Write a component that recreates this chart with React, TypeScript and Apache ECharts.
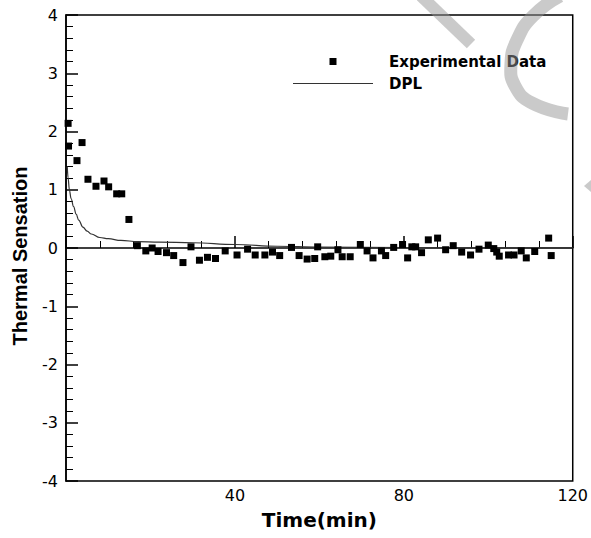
import React, { useEffect, useRef } from 'react';
import * as echarts from 'echarts';

// Experimental data (time in min, thermal sensation)
const expX = [0.5, 0.6, 2.6, 3.8, 5.2, 7.1, 9.0, 10.1, 12.0, 13.2, 14.9, 16.9, 18.9, 20.4, 21.8, 23.8, 25.5, 27.7, 29.6, 31.6, 33.5, 35.4, 37.7, 40.5, 43.0, 44.8, 47.1, 48.9, 50.6, 53.4, 55.2, 57.1, 58.9, 59.6, 61.3, 62.7, 64.4, 65.4, 67.3, 69.7, 71.3, 72.7, 74.7, 75.7, 77.6, 79.7, 80.9, 81.9, 82.8, 84.2, 85.8, 88.0, 89.9, 91.7, 93.7, 95.8, 97.8, 100.0, 101.3, 102.0, 102.6, 104.8, 106.1, 107.8, 109.0, 111.0, 114.3, 114.9];
const expY = [2.14, 1.75, 1.50, 1.81, 1.18, 1.06, 1.15, 1.05, 0.93, 0.93, 0.49, 0.04, -0.05, 0.0, -0.06, -0.08, -0.13, -0.25, 0.02, -0.21, -0.16, -0.18, -0.05, -0.12, -0.02, -0.12, -0.12, -0.07, -0.13, 0.01, -0.13, -0.19, -0.18, 0.02, -0.15, -0.14, -0.03, -0.15, -0.15, 0.06, -0.05, -0.17, -0.05, -0.13, 0.01, 0.06, -0.17, 0.02, 0.02, -0.08, 0.14, 0.17, -0.03, 0.04, -0.07, -0.12, -0.02, 0.05, -0.01, -0.07, -0.14, -0.12, -0.12, -0.05, -0.17, -0.06, 0.17, -0.13];

// DPL model curve
const dplX = [0.3, 0.5, 0.8, 1.2, 1.8, 2.4, 3.0, 4.0, 5.0, 6.0, 8.0, 10, 13, 17, 22, 30, 40, 50, 60, 80, 100, 120];
const dplY = [1.40, 1.20, 1.00, 0.85, 0.71, 0.58, 0.48, 0.36, 0.29, 0.24, 0.18, 0.16, 0.13, 0.11, 0.10, 0.09, 0.06, 0.03, 0.015, 0.005, 0.003, 0.002];

const seriesNames = ['Experimental Data', 'DPL'];
const xTitle = 'Time(min)';
const yTitle = 'Thermal Sensation';

export default function App() {
  const ref = useRef<HTMLDivElement>(null);
  useEffect(() => {
    document.body.style.margin = '0';
    if (!ref.current) return;
    const chart = echarts.init(ref.current, null, { renderer: 'svg' });
    const wm = 'rgba(150,150,150,0.5)';
    chart.setOption({
      animation: false,
      backgroundColor: '#fff',
      grid: {
        left: 66, right: 16, top: 15, bottom: 57,
        show: true, borderColor: '#000', borderWidth: 1.5, backgroundColor: 'transparent',
      },
      legend: {
        left: 293, top: 54, orient: 'vertical', padding: 0,
        itemWidth: 80, itemHeight: 7, itemGap: 7, selectedMode: false,
        textStyle: { fontFamily: 'DejaVu Sans', fontWeight: 'bold', fontSize: 15, color: '#000', padding: [0, 0, 0, 11] },
        data: [
          { name: seriesNames[0], icon: 'path://M0 0H10V10H0Z', itemStyle: { color: '#000', opacity: 1 } },
          { name: seriesNames[1], icon: 'path://M0 0H80V1.2H0Z', itemStyle: { color: '#333', opacity: 1 } },
        ],
      },
      xAxis: {
        type: 'value', min: 0, max: 120, interval: 40,
        name: xTitle, nameLocation: 'middle', nameGap: 29,
        nameTextStyle: { fontFamily: 'DejaVu Sans', fontWeight: 'bold', fontSize: 20, color: '#000' },
        axisLine: { show: true, lineStyle: { color: '#000', width: 1.5 } },
        axisTick: { show: true, inside: true, length: 12, lineStyle: { color: '#000', width: 1.5 } },
        minorTick: { show: true, splitNumber: 5, length: 7, lineStyle: { color: '#000', width: 1 } },
        axisLabel: { showMinLabel: false, margin: 6, fontFamily: 'DejaVu Sans', fontSize: 16, color: '#000' },
        splitLine: { show: false },
        minorSplitLine: { show: false },
      },
      yAxis: {
        type: 'value', min: -4, max: 4, interval: 1,
        name: yTitle, nameLocation: 'middle', nameGap: 36, nameRotate: 90,
        nameTextStyle: { fontFamily: 'Liberation Sans, Arial, sans-serif', fontWeight: 'bold', fontSize: 20, color: '#000', padding: [0, 16, 0, 0] },
        axisLine: { show: true, lineStyle: { color: '#000', width: 1.5 } },
        axisTick: { show: true, inside: true, length: 12, lineStyle: { color: '#000', width: 1.5 } },
        minorTick: { show: true, splitNumber: 5, length: 7, lineStyle: { color: '#000', width: 1 } },
        axisLabel: { margin: 8, fontFamily: 'DejaVu Sans', fontSize: 16, color: '#000' },
        splitLine: { show: false },
        minorSplitLine: { show: false },
      },
      series: [
        {
          name: seriesNames[0], type: 'scatter', symbol: 'rect', symbolSize: 7,
          itemStyle: { color: '#000', opacity: 1 },
          data: expX.map((x, i) => [x, expY[i]]),
          z: 3,
        },
        {
          name: seriesNames[1], type: 'line', symbol: 'none', showSymbol: false,
          smooth: 0.4, smoothMonotone: 'x',
          lineStyle: { color: '#333', width: 1.2 },
          itemStyle: { color: '#333' },
          data: dplX.map((x, i) => [x, dplY[i]]),
          z: 2,
        },
      ],
      graphic: [
        {
          type: 'polyline', z: 100, silent: true,
          shape: { points: [[560, -4], [533, 16], [517, 40], [511, 64], [515, 86], [532, 103], [568, 114]], smooth: 0.5 },
          style: { stroke: wm, lineWidth: 13, fill: null, lineCap: 'butt' },
        },
        {
          type: 'line', z: 100, silent: true,
          shape: { x1: 421, y1: -4, x2: 471, y2: 44 },
          style: { stroke: wm, lineWidth: 12, lineCap: 'butt' },
        },
        {
          type: 'polygon', z: 100, silent: true,
          shape: { points: [[584, 186], [591, 180], [591, 192]] },
          style: { fill: wm },
        },
      ],
    });
    return () => chart.dispose();
  }, []);
  return <div ref={ref} style={{ width: 591, height: 538 }} />;
}
